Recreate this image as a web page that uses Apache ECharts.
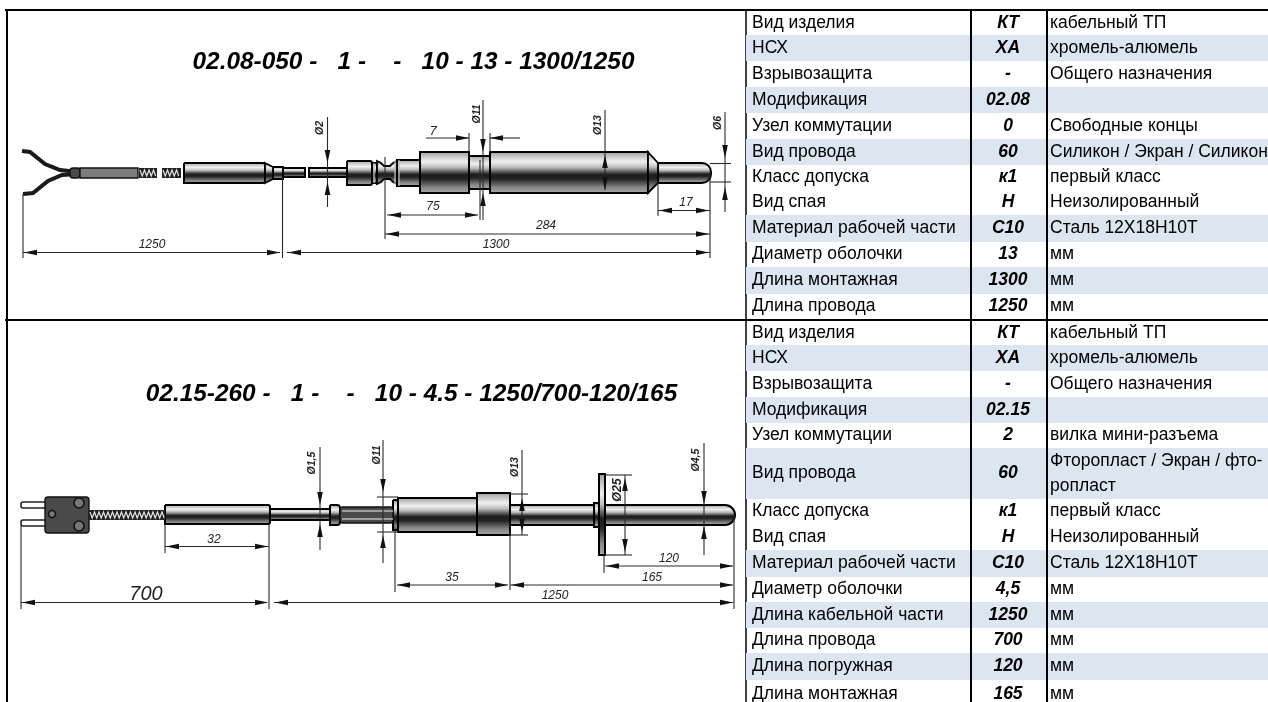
<!DOCTYPE html>
<html><head><meta charset="utf-8">
<style>html,body{margin:0;padding:0;background:#fff}#c{width:1268px;height:702px}</style>
<script src="https://cdn.jsdelivr.net/npm/echarts@6/dist/echarts.min.js"></script>
</head><body><div id="c"></div>
<script>
// ---- table content ----
const labelsA=['Вид изделия','НСХ','Взрывозащита','Модификация','Узел коммутации','Вид провода','Класс допуска','Вид спая','Материал рабочей части','Диаметр оболочки','Длина монтажная','Длина провода'];
const codesA=['КТ','ХА','-','02.08','0','60','к1','Н','С10','13','1300','1250'];
const notesA=['кабельный ТП','хромель-алюмель','Общего назначения','','Свободные концы','Силикон / Экран / Силикон','первый класс','Неизолированный','Сталь 12Х18Н10Т','мм','мм','мм'];
const edgesA=[11,35,61,87,113,139,165,190,215,242,267,294,319];
const bandsA=[1,3,5,8,10];
const labelsB=['Вид изделия','НСХ','Взрывозащита','Модификация','Узел коммутации','Вид провода','Класс допуска','Вид спая','Материал рабочей части','Диаметр оболочки','Длина кабельной части','Длина провода','Длина погружная','Длина монтажная'];
const codesB=['КТ','ХА','-','02.15','2','60','к1','Н','С10','4,5','1250','700','120','165'];
const notesB=['кабельный ТП','хромель-алюмель','Общего назначения','','вилка мини-разъема','Фторопласт / Экран / фто-\nропласт','первый класс','Неизолированный','Сталь 12Х18Н10Т','мм','мм','мм','мм','мм'];
const edgesB=[321,345,371,397,423,448,499,524,550,577,602,628,653,680,708];
const bandsB=[1,3,5,8,10,12];
const titles=[['02.08-050 -   1 -    -   10 - 13 - 1300/1250',413.5,62],['02.15-260 -   1 -    -   10 - 4.5 - 1250/700-120/165',411.5,394]];
// ---- frame lines [x1,y1,x2,y2] ----
const frame=[[5,10,1268,10],[5,320,1268,320],[7,10,7,702],[971,10,971,702],[1047,10,1047,702]];
const frameThin=[[746,10,746,702]];
// ---- drawing parts: cylinders [x0,x1,top,bottom,tipRadius] ----
const cylinders=[
 [283,305,168,177,0],[309,347,168,177,0],[347,372,161,185,2],[397,420,160,186,0],
 [420,469,152,193,0],[469,490,156,189,0],[490,648,152,193,0],[658,711,163,183,9],
 [184,265,163,183,2],[273,283,167,179,0],[372,377,163,183,0],
 [165,270,505,524,2],[270,330,509,520,0],[330,340,505,525,3],[393,398,500,530,2],[398,477,498,532,0],[477,510,493,535,0],
 [510,594,505,525,0],[594,599,503,527,0],[599,605,474,555,0],[605,735,505,525,10]
];
// tapered pieces: polygon point lists
const tapers=[
 [[265,163],[273,167],[273,179],[265,183]],
 [[648,152],[658,163],[658,183],[648,193]],
 [[377,161],[381,163],[384,166],[390,166],[393,163],[397,161],[397,184],[393,182],[390,179],[384,179],[381,182],[377,184]]
];
const darkBlocks=[[70,80,168,178],[340,393,507,523],[45,89,497,533]];
const grayBlocks=[[80,138,168,178]];
const ribs=[[342,511,393,511],[342,519,393,519],[374,163,374,183],[395,161,395,184],[399,160,399,186]];
const braids=[[139,157,168,178],[162,181,168,178],[89,165,510,520]];
const pins=[[21,46,502,508],[21,46,520,526]];
const holes=[[79,503,5],[79,526,5],[52,514,3.5]];
const wires=[[[22,151],[30,152],[45,164],[60,170],[78,172]],[[23,194],[33,193],[48,181],[62,175],[78,174]]];
// ---- dimension lines ----
const dimLines=[
 [23,252.5,280,252.5],[287,252.5,710,252.5],[385,234,710,234],[387,215,478,215],[426,138,469,138],[490,138,520,138],[658,210.5,710,210.5],
 [23,194,23,258],[282.5,178,282.5,258],[710,172,710,258],[385,157,385,239],[480,160,480,220],[483,100,483,220],[469,133,469,152],[490,133,490,152],
 [327.5,117,327.5,207],[605,110,605,190],[725,112,725,212],[710,163.5,731,163.5],[710,182,731,182],[658,183,658,216],
 [21,602.5,267,602.5],[274,602.5,733,602.5],[510,585,733,585],[397,585,508,585],[605,566,733,566],[165,546.5,269,546.5],
 [21,526,21,609],[269,524,269,609],[734,515,734,609],[510,530,510,590],[395,527,395,592],[604,555,604,573],[165,524,165,553],
 [320,447,320,550],[383,440,383,563],[377,497,398,497],[377,532,398,532],[522,450,522,535],[510,494,528,494],[510,535,528,535],
 [625,475,625,555],[605,475,632,475],[605,555,632,555],[704,443,704,555]
];
// arrows [tipX,tipY,direction]
const arrows=[
 [24,252.5,'L'],[280,252.5,'R'],[288,252.5,'L'],[709,252.5,'R'],[386,234,'L'],[709,234,'R'],[388,215,'L'],[478,215,'R'],[469,138,'R'],[490,138,'L'],
 [659,210.5,'L'],[709,210.5,'R'],[327.5,163,'D'],[327.5,182,'U'],[483,152,'D'],[483,193,'U'],[605,155,'U'],[605,190,'D'],[725,158,'D'],[725,187,'U'],
 [22,602.5,'L'],[268,602.5,'R'],[275,602.5,'L'],[733,602.5,'R'],[511,585,'L'],[733,585,'R'],[397,585,'L'],[508,585,'R'],[606,566,'L'],[733,566,'R'],
 [166,546.5,'L'],[268,546.5,'R'],[320,505,'D'],[320,524,'U'],[383,492,'D'],[383,535,'U'],[522,498,'U'],[522,532,'D'],[625,478,'U'],[625,552,'D'],[704,504,'D'],[704,526,'U']
];
// dimension labels [text,x,y,size,rotated]
const dimTexts=[
 ['1250',152,245,12,0],['1300',496,245,12,0],['284',546,226,12,0],['75',433,207,12,0],['7',433,131,13,0],['17',686,203,12,0],
 ['Ø2',320,128,10.5,1],['Ø11',477,114,10.5,1],['Ø13',598,125,10.5,1],['Ø6',718,123,10.5,1],
 ['700',146,594,20,0],['1250',555,596,12,0],['165',652,578,12,0],['35',452,578,12,0],['120',669,559,12,0],['32',214,540,12,0],
 ['Ø1,5',312,463,10.5,1],['Ø11',377,455,10.5,1],['Ø13',515,467,10.5,1],['Ø25',618,490,12.5,1],['Ø4,5',696,460,10.5,1]
];
// ---- helpers ----
const cyl=new echarts.graphic.LinearGradient(0,0,0,1,[
 {offset:0,color:'#999'},{offset:.25,color:'#f0f0f0'},{offset:.38,color:'#bbb'},{offset:.55,color:'#1e1e1e'},
 {offset:.65,color:'#222'},{offset:.85,color:'#888'},{offset:1,color:'#aaa'}]);
const FS='"Liberation Sans",Arial,sans-serif';
const pts=(api,l)=>l.map(p=>api.coord(p));
function series(data,render,z){return {type:'custom',coordinateSystem:'cartesian2d',data:data.map((_,i)=>[i,0]),silent:true,z:z,clip:false,animation:false,
 renderItem:(p,api)=>render(data[p.dataIndex],api),encode:{x:0,y:1}};}
const line=(d,api,w,c)=>{const a=api.coord([d[0],d[1]]),b=api.coord([d[2],d[3]]);return {type:'line',shape:{x1:a[0],y1:a[1],x2:b[0],y2:b[1]},style:{stroke:c,lineWidth:w}}};
function boxRect(d,api){const a=api.coord([d[0],d[2]]),b=api.coord([d[1],d[3]]);return {x:a[0],y:a[1],width:b[0]-a[0],height:b[1]-a[1]};}
const textEl=(t,x,y,font,align,fill,rot)=>({type:'text',x:x,y:y,rotation:rot||0,style:{text:t,x:0,y:0,font:font,fill:fill||'#000',align:align,verticalAlign:'middle',lineHeight:25}});
// ---- table cells ----
const FONT='17.5px '+FS,BOLD='italic bold 17.5px '+FS;
const cells=[];
[[labelsA,codesA,notesA,edgesA],[labelsB,codesB,notesB,edgesB]].forEach(([l,c,n,e])=>l.forEach((t,i)=>{
 const y=(e[i]+e[i+1])/2;
 cells.push([t,752,y,FONT,'left'],[c[i],1008,y,BOLD,'center'],[n[i],1050,y,FONT,'left']);
}));
const bands=[];
[[bandsA,edgesA],[bandsB,edgesB]].forEach(([b,e])=>b.forEach(i=>bands.push([e[i],e[i+1]])));
const option={
 animation:false,
 grid:{left:0,right:0,top:0,bottom:0,containLabel:false},
 xAxis:{type:'value',min:0,max:1268,show:false},
 yAxis:{type:'value',min:0,max:702,inverse:true,show:false},
 series:[
  series(frameThin,(d,api)=>line(d,api,1.5,'#000'),1),
  series(bands,(d,api)=>{const a=api.coord([746,d[0]]),b=api.coord([1268,d[1]]);return {type:'rect',shape:{x:a[0],y:a[1],width:b[0]-a[0],height:b[1]-a[1]},style:{fill:'#dce6f1'}}},2),
  series(frame,(d,api)=>line(d,api,2,'#000'),3),
  series(cells,(d,api)=>{const c=api.coord([d[1],d[2]]);return textEl(d[0],c[0],c[1],d[3],d[4])},10),
  series(titles,(d,api)=>{const c=api.coord([d[1],d[2]]);return textEl(d[0],c[0],c[1],'italic bold 24.4px '+FS,'center')},10),
  series(wires,(d,api)=>({type:'polyline',shape:{points:pts(api,d)},style:{stroke:'#1a1a1a',lineWidth:4,fill:'none'}}),4),
  series(cylinders,(d,api)=>({type:'rect',shape:Object.assign(boxRect(d,api),d[4]?{r:[0,d[4],d[4],0]}:{}),style:{fill:cyl,stroke:'#000',lineWidth:2}}),5),
  series(tapers,(d,api)=>({type:'polygon',shape:{points:pts(api,d)},style:{fill:cyl,stroke:'#000',lineWidth:1.8}}),5),
  series(darkBlocks,(d,api)=>({type:'rect',shape:Object.assign(boxRect(d,api),{r:3}),style:{fill:'#4a4a4a',stroke:'#111',lineWidth:1.4}}),5),
  series(grayBlocks,(d,api)=>({type:'rect',shape:boxRect(d,api),style:{fill:'#7d7d7d',stroke:'#111',lineWidth:1.4}}),5),
  series(braids,(d,api)=>{const r=boxRect(d,api);const kids=[{type:'rect',shape:r,style:{fill:'#222'}}];
    const m=r.y+r.height/2;let zig=[];for(let x=r.x+1;x<r.x+r.width-1;x+=4.5){zig.push([x,m-3]);zig.push([x+2.2,m+3]);}
    kids.push({type:'polyline',shape:{points:zig},style:{stroke:'#e2e2e2',lineWidth:1.2,fill:'none'}});return {type:'group',children:kids};},5),
  series(ribs,(d,api)=>line(d,api,1.3,'#bbb'),6),
  series(pins,(d,api)=>({type:'rect',shape:Object.assign(boxRect(d,api),{r:2}),style:{fill:'#fff',stroke:'#222',lineWidth:1.6}}),4),
  series(holes,(d,api)=>{const c=api.coord([d[0],d[1]]);return {type:'circle',shape:{cx:c[0],cy:c[1],r:d[2]},style:{fill:'#777',stroke:'#111',lineWidth:1.6}}},6),
  series(dimLines,(d,api)=>line(d,api,1.1,'#2a2a2a'),7),
  series(arrows,(d,api)=>{const t=api.coord([d[0],d[1]]),L=13,W=2.8;const s={L:[1,0],R:[-1,0],U:[0,1],D:[0,-1]}[d[2]];
    return {type:'polygon',shape:{points:[t,[t[0]+s[0]*L+s[1]*W,t[1]+s[1]*L+s[0]*W],[t[0]+s[0]*L-s[1]*W,t[1]+s[1]*L-s[0]*W]]},style:{fill:'#111'}}},8),
  series(dimTexts,(d,api)=>{const c=api.coord([d[1],d[2]]);return textEl(d[0],c[0],c[1],'italic '+(d[4]?'bold ':'')+d[3]+'px '+FS,'center','#222',d[4]?Math.PI/2:0)},9)
 ]
};
echarts.init(document.getElementById('c'),null,{renderer:'canvas'}).setOption(option);
</script></body></html>
